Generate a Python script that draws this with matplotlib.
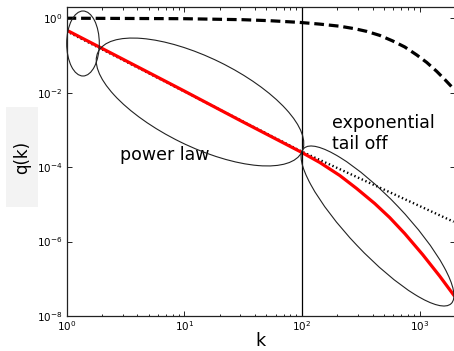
import math
import matplotlib
matplotlib.use("Agg")
import matplotlib.pyplot as plt
from matplotlib.patches import Ellipse, Rectangle
from matplotlib.ticker import LogLocator, FixedLocator, NullLocator, FuncFormatter

plt.rcParams['lines.scale_dashes'] = False
plt.rcParams['font.family'] = ['DejaVu Sans']

# power law with exponential cut-off
k_cut = [1, 2, 5, 10, 30, 100, 142, 210, 292, 416, 557, 748, 1062, 1482, 1950]
q_cut = [0.48, 0.155, 0.0346, 0.0111, 1.78e-3, 2.47e-4, 1.33e-4, 5.94e-5,
         2.66e-5, 1.05e-5, 4.42e-6, 1.64e-6, 4.47e-7, 1.18e-7, 3.65e-8]

# pure power law
k_pow = [1, 100, 1950]
q_pow = [0.45, 2.6e-4, 3.4e-6]

# exponential factor
k_exp = [1, 9.94, 31.5, 53.4, 95.9, 142, 210, 281, 356, 459, 591, 748, 946,
         1151, 1400, 1637, 1950]
q_exp = [1.0, 0.970, 0.912, 0.857, 0.771, 0.694, 0.609, 0.522, 0.442, 0.345,
         0.245, 0.169, 0.103, 0.0648, 0.0372, 0.0226, 0.0126]

k_split = 100
x_ticks = [1, 10, 100, 1000]
y_ticks = [1e0, 1e-2, 1e-4, 1e-6, 1e-8]

W, H = 454, 351
fig = plt.figure(figsize=(W / 100, H / 100), dpi=100)
ax = fig.add_axes([66.5 / W, (H - 316) / H, (455 - 66.5) / W, (316 - 7) / H])

ax.set_xscale('log')
ax.set_yscale('log')

ax.plot(k_exp, q_exp, color='black', lw=2.3, linestyle=(0, (7, 3.5)))
ax.plot(k_pow, q_pow, color='black', lw=1.7, linestyle=(0, (1.0, 1.9)))
ax.plot(k_cut, q_cut, color='#ff0000', lw=2.3)
ax.axvline(k_split, color='black', lw=0.9)

ax.set_xlim(1, 2000)
ax.set_ylim(1e-8, 2)

ax.xaxis.set_major_locator(FixedLocator(x_ticks))
ax.xaxis.set_minor_locator(LogLocator(base=10, subs=range(2, 10)))
ax.yaxis.set_major_locator(FixedLocator(y_ticks))
ax.yaxis.set_minor_locator(NullLocator())


def pow_label(v, pos):
    return r'$10^{%d}$' % round(math.log10(v))


ax.xaxis.set_major_formatter(FuncFormatter(pow_label))
ax.yaxis.set_major_formatter(FuncFormatter(pow_label))
ax.tick_params(which='both', direction='in', top=True, right=True, width=0.6, labelsize=7.5)
ax.tick_params(axis='x', which='major', length=3.5, pad=2.5)
ax.tick_params(axis='y', which='major', length=3.5, pad=3)
ax.tick_params(which='minor', length=1.8)
for s in ax.spines.values():
    s.set_linewidth(0.9)
    s.set_color('#222222')

ax.set_xlabel('k', fontsize=12.5)
ax.xaxis.set_label_coords(0.5, (316 - 331.5) / 309)
ax.set_ylabel('q(k)', fontsize=12, va='center')
ax.yaxis.set_label_coords((22 - 66.5) / 388.5, (316 - 157) / 309)

# soft backdrop behind the y label
fig.patches.append(Rectangle((6 / W, (H - 207) / H), 32 / W, 100 / H,
                             transform=fig.transFigure, facecolor='#f3f3f3',
                             edgecolor='none', zorder=-1))


# outlines grouping the regimes (pixel layout converted to inches)
def px(x, y):
    return (x / 100, (H - y) / 100)


for cx, cy, w, h, ang in [(83, 43.5, 32.6, 65, 0),
                          (200, 102, 227, 89, -26.1),
                          (377.5, 226, 214, 56.5, -46.5)]:
    fig.patches.append(Ellipse(px(cx, cy), w / 100, h / 100, angle=ang,
                               transform=fig.dpi_scale_trans, fill=False,
                               edgecolor='#222222', lw=0.8, zorder=5))

fig.text(120 / W, (H - 155) / H, 'power law', fontsize=12.5, va='center', ha='left')
fig.text(332 / W, (H - 114) / H, 'exponential\ntail off', fontsize=12.5,
         va='top', ha='left', linespacing=1.25)

fig.savefig('out.png', dpi=100)
